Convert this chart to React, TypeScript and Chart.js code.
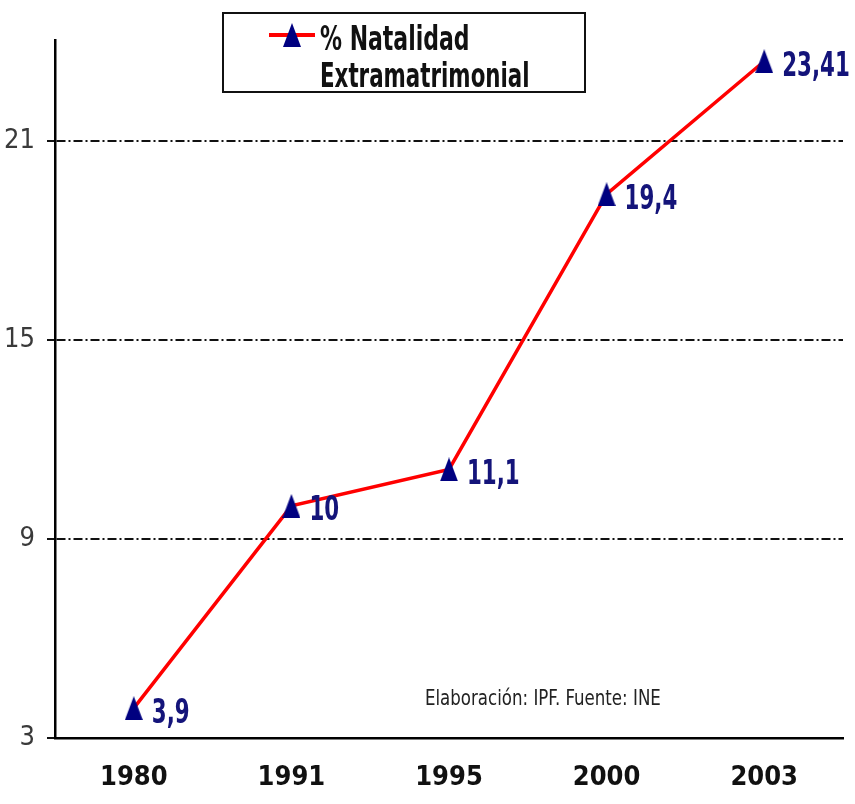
import React, { useEffect, useRef } from "react";
import { Chart, registerables } from "chart.js";

Chart.register(...registerables);

const years: string[] = ["1980", "1991", "1995", "2000", "2003"];
const natalidad: number[] = [3.9, 10, 11.1, 19.4, 23.41];
const valueLabels: string[] = ["3,9", "10", "11,1", "19,4", "23,41"];
const yTicks: number[] = [3, 9, 15, 21];
const yMin = 3;
const yMax = 24.05;
const legendLines: string[] = ["% Natalidad", "Extramatrimonial"];
const sourceNote = "Elaboración: IPF. Fuente: INE";

const NARROW = "'DejaVu Sans Condensed', 'DejaVu Sans', sans-serif";
const NAVY = "#14147a";
const MARKER = "#000080";

function makeTriangle(w: number, h: number): HTMLCanvasElement {
  const c = document.createElement("canvas");
  c.width = w;
  c.height = h;
  const g = c.getContext("2d")!;
  g.fillStyle = MARKER;
  g.beginPath();
  g.moveTo(w / 2, 0);
  g.lineTo(w, h);
  g.lineTo(0, h);
  g.closePath();
  g.fill();
  return c;
}

function narrowText(ctx: any, text: string, x: number, y: number, sx: number) {
  ctx.save();
  ctx.translate(x, y);
  ctx.scale(sx, 1);
  ctx.fillText(text, 0, 0);
  ctx.restore();
}

const labelPlugin = {
  id: "valueLabels",
  afterDatasetsDraw(chart: any) {
    const ctx = chart.ctx;
    const meta = chart.getDatasetMeta(0);
    ctx.save();
    ctx.font = `bold 33px ${NARROW}`;
    ctx.fillStyle = NAVY;
    ctx.textAlign = "left";
    ctx.textBaseline = "middle";
    meta.data.forEach((p: any, i: number) => {
      narrowText(ctx, valueLabels[i], p.x + 18, p.y + 6, 0.72);
    });
    ctx.restore();
  },
};

const decorPlugin = {
  id: "decor",
  afterDraw(chart: any) {
    const ctx = chart.ctx;
    ctx.save();
    // legend box
    ctx.fillStyle = "#ffffff";
    ctx.fillRect(222, 12, 363, 80);
    ctx.strokeStyle = "#111";
    ctx.lineWidth = 2;
    ctx.strokeRect(223, 13, 362, 79);
    // legend marker
    ctx.strokeStyle = "#ff0000";
    ctx.lineWidth = 4;
    ctx.beginPath();
    ctx.moveTo(269, 35);
    ctx.lineTo(315, 35);
    ctx.stroke();
    ctx.fillStyle = MARKER;
    ctx.beginPath();
    ctx.moveTo(292, 23);
    ctx.lineTo(301, 47);
    ctx.lineTo(283, 47);
    ctx.closePath();
    ctx.fill();
    // legend text
    ctx.fillStyle = "#111";
    ctx.font = `bold 33px ${NARROW}`;
    ctx.textAlign = "left";
    ctx.textBaseline = "alphabetic";
    narrowText(ctx, legendLines[0], 320, 50, 0.74);
    narrowText(ctx, legendLines[1], 320, 87, 0.72);
    // source note
    ctx.font = `22px ${NARROW}`;
    ctx.fillStyle = "#222";
    ctx.textBaseline = "middle";
    narrowText(ctx, sourceNote, 425, 699, 0.84);
    ctx.restore();
  },
};

export default function App() {
  const ref = useRef<HTMLCanvasElement | null>(null);

  useEffect(() => {
    if (!ref.current) return;
    const tri = makeTriangle(18, 24);
    const chart = new Chart(ref.current, {
      type: "line",
      data: {
        labels: years,
        datasets: [
          {
            label: legendLines.join(" "),
            data: natalidad,
            borderColor: "#ff0000",
            borderWidth: 3.5,
            pointStyle: tri as any,
            pointRadius: 12,
            pointBackgroundColor: MARKER,
            pointBorderColor: MARKER,
            pointBorderWidth: 0,
            tension: 0,
          },
        ],
      },
      options: {
        responsive: false,
        animation: false,
        layout: { padding: { top: 40, right: 5, left: 0, bottom: 0 } },
        plugins: { legend: { display: false }, tooltip: { enabled: false } },
        scales: {
          x: {
            offset: true,
            grid: { display: false, drawTicks: false },
            border: { display: true, color: "#000", width: 2.5 },
            ticks: {
              padding: 24,
              color: "#111",
              font: { family: NARROW, size: 27, weight: "bold" },
            },
            afterFit: (s: any) => {
              s.height = 66;
            },
          },
          y: {
            min: yMin,
            max: yMax,
            afterBuildTicks: (s: any) => {
              s.ticks = yTicks.map((v) => ({ value: v }));
            },
            grid: {
              color: "#111",
              lineWidth: 2,
              drawTicks: true,
              tickLength: 8,
              tickColor: "#111",
              tickWidth: 2,
            },
            border: { display: true, color: "#000", width: 2.5, dash: [9, 3, 2, 3] },
            ticks: {
              padding: 12,
              color: "#3a3a3a",
              font: { family: NARROW, size: 27 },
            },
            afterFit: (s: any) => {
              s.width = 55;
            },
          },
        },
      },
      plugins: [labelPlugin, decorPlugin],
    });
    return () => chart.destroy();
  }, []);

  return (
    <div style={{ position: "fixed", left: 0, top: 0, width: 855, height: 804, background: "#fff" }}>
      <canvas ref={ref} width={855} height={804} style={{ width: 855, height: 804, display: "block" }} />
    </div>
  );
}
